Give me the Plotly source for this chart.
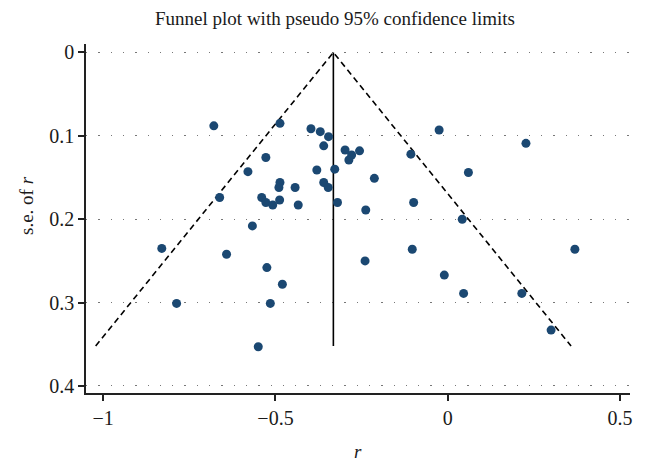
import plotly.graph_objects as go

# Study effect sizes (r) and their standard errors
r_values = [-0.679, -0.487, -0.397, -0.370, -0.346, -0.360, -0.298, -0.279, -0.287, -0.256,
            -0.528, -0.580, -0.380, -0.328, -0.487, -0.490, -0.443, -0.360, -0.347, -0.662,
            -0.540, -0.528, -0.508, -0.488, -0.434, -0.320, -0.567, -0.830, -0.642, -0.525,
            -0.213, -0.238, -0.025, -0.107, -0.099, 0.060, 0.227, 0.042, -0.103, 0.369,
            -0.240, -0.010, 0.046, 0.215, 0.300, -0.480, -0.787, -0.515, -0.550]
se_values = [0.088, 0.085, 0.0915, 0.095, 0.101, 0.112, 0.117, 0.123, 0.129, 0.118,
             0.126, 0.143, 0.141, 0.140, 0.156, 0.162, 0.162, 0.156, 0.162, 0.174,
             0.174, 0.180, 0.183, 0.177, 0.183, 0.180, 0.208, 0.235, 0.242, 0.258,
             0.151, 0.189, 0.093, 0.122, 0.180, 0.144, 0.109, 0.200, 0.236, 0.236,
             0.250, 0.267, 0.289, 0.289, 0.333, 0.278, 0.301, 0.301, 0.353]

pooled_r = -0.332
se_max = 0.352
z95 = 1.96

x_ticks = [-1, -0.5, 0, 0.5]
x_tick_labels = ["\u22121", "\u22120.5", "0", "0.5"]
y_ticks = [0, 0.1, 0.2, 0.3, 0.4]
y_tick_labels = ["0", "0.1", "0.2", "0.3", "0.4"]

FONT = "Liberation Serif"
TXT = "#1a1a1a"

# page body has an 8px default margin; figure sized to fit the window
W, H = 638, 466
ML, MR, MT, MB = 78, 16, 36, 81
PW, PH = W - ML - MR, H - MT - MB

fig = go.Figure()

# pseudo 95% confidence limits
fig.add_trace(go.Scatter(
    x=[pooled_r - z95 * se_max, pooled_r, pooled_r + z95 * se_max],
    y=[se_max, 0, se_max],
    mode="lines",
    line=dict(color="black", width=1.6, dash="6px,4px"),
    hoverinfo="skip", showlegend=False))

# pooled estimate line
fig.add_trace(go.Scatter(
    x=[pooled_r, pooled_r], y=[0, se_max],
    mode="lines",
    line=dict(color="black", width=1.6),
    hoverinfo="skip", showlegend=False))

fig.add_trace(go.Scatter(
    x=r_values, y=se_values, mode="markers",
    marker=dict(color="#1b4872", size=9, line=dict(width=0)),
    showlegend=False))

fig.update_layout(
    width=W, height=H,
    margin=dict(l=ML, r=MR, t=MT, b=MB, autoexpand=False),
    paper_bgcolor="white", plot_bgcolor="white",
    font=dict(family=FONT, size=19, color=TXT),
    title=dict(text="Funnel plot with pseudo 95% confidence limits",
               x=(335 - 8) / W, xanchor="center", xref="container",
               y=1 - 10 / H, yanchor="middle", yref="container",
               font=dict(family=FONT, size=19, color=TXT)),
    xaxis=dict(range=[-1.050, 0.529], tickvals=x_ticks, ticktext=x_tick_labels,
               automargin=False,
               showgrid=False, zeroline=False, showline=True,
               linecolor="#222", linewidth=1.5,
               ticks="outside", ticklen=6, tickwidth=1.5, tickcolor="#222",
               tickfont=dict(family=FONT, size=20, color=TXT)),
    yaxis=dict(range=[0.4084, -0.0101], tickvals=y_ticks, ticktext=y_tick_labels,
               automargin=False,
               showgrid=True, gridcolor="#777", gridwidth=1.3, griddash="1.3px,11px",
               zeroline=False, showline=True,
               linecolor="#222", linewidth=1.5,
               ticks="outside", ticklen=6, tickwidth=1.5, tickcolor="#222",
               tickfont=dict(family=FONT, size=20, color=TXT)),
    annotations=[
        dict(text="<i>r</i>", xref="paper", yref="paper",
             x=(358 - 86) / PW, y=-(452 - 393) / PH,
             xanchor="center", yanchor="middle", showarrow=False,
             font=dict(family=FONT, size=19, color=TXT)),
        dict(text="s.e. of <i>r</i>", xref="paper", yref="paper",
             x=-(86 - 26) / PW, y=(393 - 206) / PH,
             xanchor="center", yanchor="middle", textangle=-90, showarrow=False,
             font=dict(family=FONT, size=19, color=TXT)),
    ],
)

fig.write_html("out.html")
